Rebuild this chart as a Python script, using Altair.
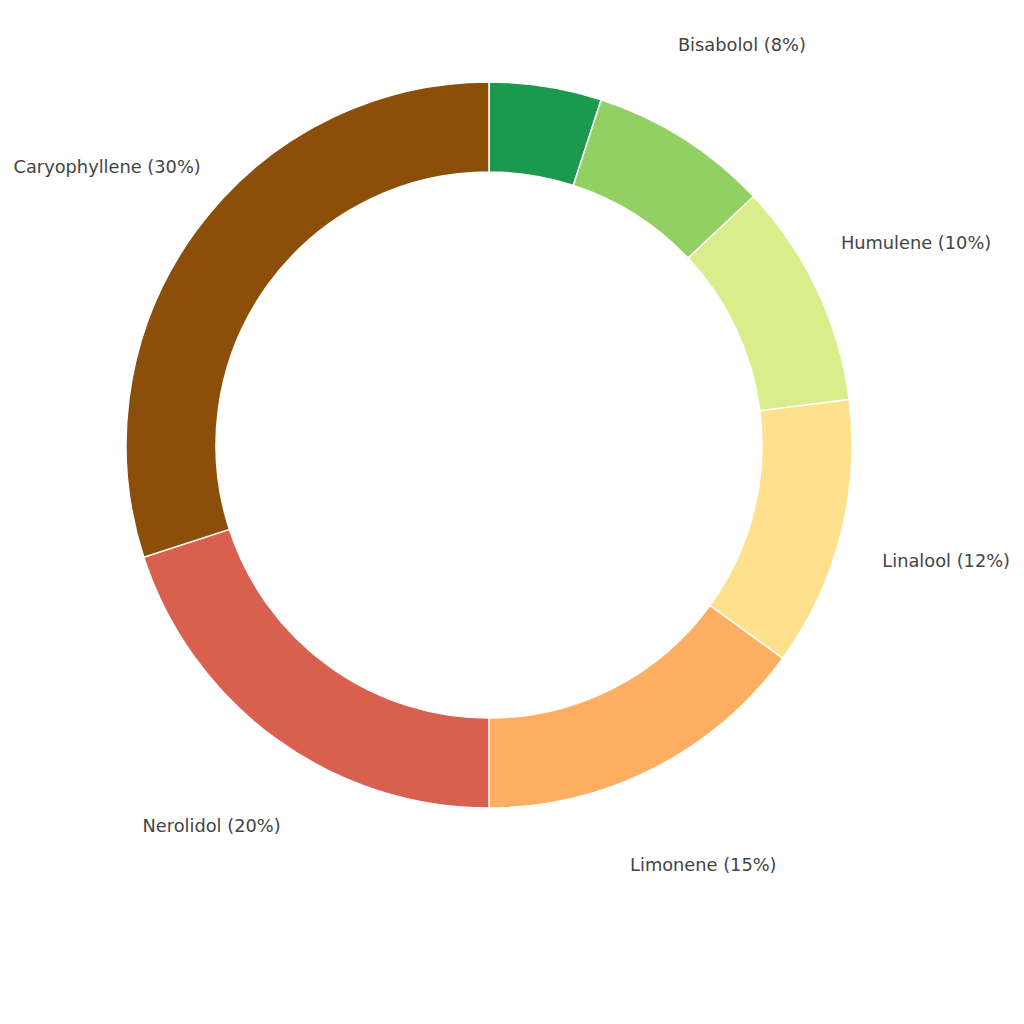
import altair as alt
import pandas as pd

names = ["Pinene", "Bisabolol", "Humulene", "Linalool", "Limonene", "Nerolidol", "Caryophyllene"]
values = [5, 8, 10, 12, 15, 20, 30]
colors = ["#1b994f", "#93d063", "#d9ee8b", "#fee08d", "#fdae61", "#d9604f", "#8b4f0a"]
show_label = [False, True, True, True, True, True, True]

df = pd.DataFrame({
    "name": names,
    "value": values,
    "order": list(range(len(names))),
    "label": [f"{n} ({v}%)" if s else "" for n, v, s in zip(names, values, show_label)],
})

cx, cy = 481, 437

base = alt.Chart(df).encode(
    theta=alt.Theta("value:Q", stack=True),
    order=alt.Order("order:Q"),
)

arcs = base.mark_arc(innerRadius=273, outerRadius=363, stroke="white", strokeWidth=1.5).encode(
    x=alt.value(cx),
    y=alt.value(cy),
    color=alt.Color("name:N", scale=alt.Scale(domain=names, range=colors), legend=None),
)

labels = base.mark_text(font="DejaVu Sans", fontSize=17.8, color="#444444", align="center", baseline="middle").encode(
    x=alt.value(cx),
    y=alt.value(cy),
    radius=alt.value(472),
    text="label:N",
)

chart = (arcs + labels).properties(
    width=1008, height=1008, padding=0, autosize="none"
).configure_view(stroke=None)

chart.save("out.html", embed_options={"renderer": "svg", "actions": False})
